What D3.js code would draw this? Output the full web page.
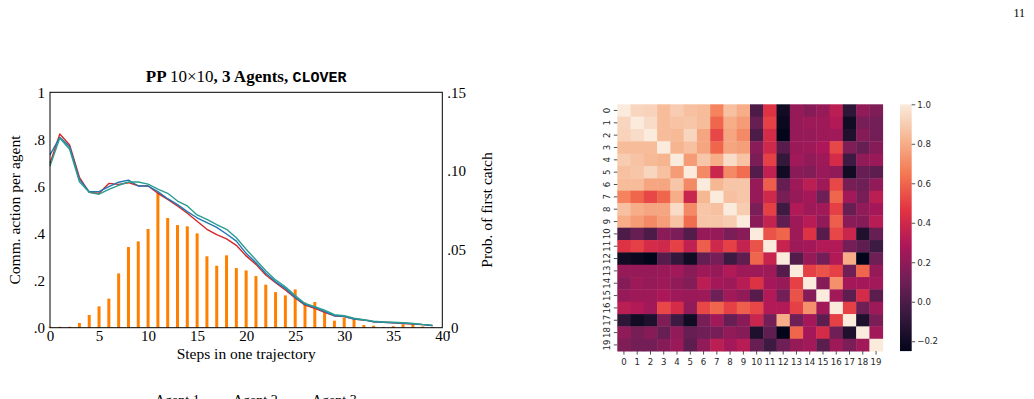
<!DOCTYPE html>
<html>
<head>
<meta charset="utf-8">
<script src="https://cdn.jsdelivr.net/npm/d3@7"></script>
<style>
  body { margin: 0; background: white; }
  svg { display: block; }
  .serif { font-family: "Liberation Serif", "DejaVu Serif", serif; }
  .sans { font-family: "DejaVu Sans", sans-serif; }
</style>
</head>
<body>
<svg id="figure" width="1034" height="399"></svg>
<script>
// ---- left chart data ----
var steps = d3.range(0, 40);
var agent1 = [0.698, 0.823, 0.776, 0.639, 0.575, 0.571, 0.613, 0.609, 0.616, 0.603,
              0.602, 0.571, 0.545, 0.517, 0.486, 0.452, 0.418, 0.395, 0.377, 0.350,
              0.305, 0.269, 0.224, 0.191, 0.160, 0.126, 0.096, 0.082, 0.065, 0.050,
              0.047, 0.037, 0.033, 0.025, 0.023, 0.021, 0.018, 0.016, 0.013, 0.009];
var agent2 = [0.734, 0.809, 0.769, 0.630, 0.578, 0.578, 0.599, 0.618, 0.627, 0.602,
              0.602, 0.578, 0.548, 0.523, 0.493, 0.467, 0.446, 0.426, 0.398, 0.368,
              0.316, 0.276, 0.231, 0.195, 0.167, 0.129, 0.099, 0.086, 0.068, 0.051,
              0.048, 0.037, 0.033, 0.025, 0.023, 0.021, 0.020, 0.017, 0.013, 0.009];
var agent3 = [0.687, 0.806, 0.758, 0.620, 0.575, 0.567, 0.588, 0.605, 0.619, 0.619,
              0.610, 0.589, 0.571, 0.538, 0.517, 0.479, 0.460, 0.438, 0.418, 0.382,
              0.333, 0.288, 0.242, 0.203, 0.174, 0.137, 0.103, 0.089, 0.075, 0.055,
              0.051, 0.040, 0.034, 0.028, 0.024, 0.023, 0.021, 0.018, 0.014, 0.011];
var firstCatch = [0.0006, 0.0006, 0.0006, 0.0030, 0.0081, 0.0136, 0.0185, 0.0346, 0.0514, 0.0550,
                  0.0629, 0.0860, 0.0699, 0.0654, 0.0646, 0.0601, 0.0455, 0.0395, 0.0461, 0.0380,
                  0.0365, 0.0329, 0.0274, 0.0227, 0.0206, 0.0244, 0.0161, 0.0164, 0.0108, 0.0045,
                  0.0064, 0.0053, 0.0017, 0.0013, 0.0005, 0.0010, 0.0021, 0.0023, 0.0008, 0.0004];
var agentNames = ["Agent 1", "Agent 2", "Agent 3"];
var xTicks = [0, 5, 10, 15, 20, 25, 30, 35, 40];
var leftTicks = [0, 0.2, 0.4, 0.6, 0.8, 1];
var leftTickLabels = [".0", ".2", ".4", ".6", ".8", "1"];
var rightTicks = [0, 0.05, 0.10, 0.15];
var rightTickLabels = [".0", ".05", ".10", ".15"];

// ---- heatmap data (correlation between 20 units) ----
var heatLabels = d3.range(0, 20).map(String);
var corr = [
  [1.00, 0.93, 0.92, 0.85, 0.90, 0.86, 0.85, 0.68, 0.86, 0.80, 0.00, 0.45, -0.20, 0.22, 0.17, 0.22, 0.33, -0.10, 0.20, 0.15],
  [0.93, 1.00, 0.95, 0.85, 0.87, 0.88, 0.85, 0.60, 0.80, 0.75, 0.08, 0.50, -0.22, 0.22, 0.24, 0.24, 0.30, -0.20, 0.13, 0.12],
  [0.92, 0.95, 1.00, 0.85, 0.84, 0.93, 0.78, 0.52, 0.78, 0.70, 0.00, 0.42, -0.25, 0.22, 0.22, 0.24, 0.25, -0.15, 0.17, 0.12],
  [0.85, 0.85, 0.85, 1.00, 0.82, 0.86, 0.78, 0.60, 0.78, 0.76, 0.18, 0.40, 0.03, 0.23, 0.24, 0.28, 0.52, 0.15, 0.08, 0.17],
  [0.90, 0.87, 0.84, 0.82, 1.00, 0.75, 0.88, 0.80, 0.95, 0.87, 0.14, 0.50, -0.08, 0.25, 0.20, 0.24, 0.42, -0.05, 0.20, 0.23],
  [0.86, 0.88, 0.93, 0.86, 0.75, 1.00, 0.70, 0.38, 0.70, 0.62, 0.02, 0.35, -0.20, 0.18, 0.16, 0.23, 0.20, -0.20, 0.08, 0.05],
  [0.85, 0.85, 0.78, 0.78, 0.88, 0.70, 1.00, 0.83, 0.88, 0.88, 0.22, 0.58, 0.07, 0.24, 0.33, 0.24, 0.52, 0.13, 0.10, 0.20],
  [0.68, 0.60, 0.52, 0.60, 0.80, 0.38, 0.83, 1.00, 0.86, 0.88, 0.22, 0.40, 0.13, 0.22, 0.26, 0.10, 0.60, 0.25, 0.13, 0.33],
  [0.86, 0.80, 0.78, 0.78, 0.95, 0.70, 0.88, 0.86, 1.00, 0.90, 0.14, 0.50, -0.05, 0.30, 0.24, 0.25, 0.50, 0.08, 0.20, 0.26],
  [0.80, 0.75, 0.70, 0.76, 0.87, 0.62, 0.88, 0.88, 0.90, 1.00, 0.18, 0.36, 0.06, 0.24, 0.32, 0.20, 0.58, 0.18, 0.17, 0.32],
  [0.00, 0.08, 0.00, 0.18, 0.14, 0.02, 0.22, 0.22, 0.14, 0.18, 1.00, 0.55, 0.60, 0.24, 0.45, 0.03, 0.52, 0.38, -0.15, 0.08],
  [0.45, 0.50, 0.42, 0.40, 0.50, 0.35, 0.58, 0.40, 0.50, 0.36, 0.55, 1.00, 0.37, 0.24, 0.26, 0.30, 0.30, 0.12, 0.06, -0.05],
  [-0.20, -0.22, -0.25, 0.03, -0.08, -0.20, 0.07, 0.13, -0.05, 0.06, 0.60, 0.37, 1.00, 0.02, 0.22, 0.12, 0.30, 0.80, -0.25, 0.10],
  [0.22, 0.22, 0.22, 0.23, 0.25, 0.18, 0.24, 0.22, 0.30, 0.24, 0.24, 0.24, 0.02, 1.00, 0.50, 0.55, 0.50, 0.10, 0.60, 0.22],
  [0.17, 0.24, 0.22, 0.24, 0.20, 0.16, 0.33, 0.26, 0.24, 0.32, 0.45, 0.26, 0.22, 0.50, 1.00, 0.17, 0.72, 0.26, 0.26, 0.25],
  [0.22, 0.24, 0.24, 0.28, 0.24, 0.23, 0.24, 0.10, 0.25, 0.20, 0.03, 0.30, 0.12, 0.55, 0.17, 1.00, 0.25, 0.05, 0.42, 0.04],
  [0.33, 0.30, 0.25, 0.52, 0.42, 0.20, 0.52, 0.60, 0.50, 0.58, 0.52, 0.30, 0.30, 0.50, 0.72, 0.25, 1.00, 0.50, 0.10, 0.24],
  [-0.10, -0.20, -0.15, 0.15, -0.05, -0.20, 0.13, 0.25, 0.08, 0.18, 0.38, 0.12, 0.80, 0.10, 0.26, 0.05, 0.50, 1.00, -0.15, 0.14],
  [0.20, 0.13, 0.17, 0.08, 0.20, 0.08, 0.10, 0.13, 0.20, 0.17, -0.15, 0.06, -0.25, 0.60, 0.26, 0.42, 0.10, -0.15, 1.00, 0.25],
  [0.15, 0.12, 0.12, 0.17, 0.23, 0.05, 0.20, 0.33, 0.26, 0.32, 0.08, -0.05, 0.10, 0.22, 0.25, 0.04, 0.24, 0.14, 0.25, 1.00]
];
var colorbarTicks = [-0.2, 0.0, 0.2, 0.4, 0.6, 0.8, 1.0];
var rocketStops = ["#03051a", "#35193e", "#701f57", "#ad1759", "#e13342", "#f37651", "#f6b48f", "#faebdd"];

var svg = d3.select("#figure");

function build_line_chart() {
    const box = {left: 50, right: 442.3, top: 92.3, bottom: 327.7};
    var agents = [agent1, agent2, agent3];
    var lineColors = ["#d62728", "#1f77b4", "#2a9d8f"];

    var x = d3.scaleLinear().domain([0, 40]).range([box.left, box.right]);
    var yLeft = d3.scaleLinear().domain([0, 1]).range([box.bottom, box.top]);
    var yRight = d3.scaleLinear().domain([0, 0.15]).range([box.bottom, box.top]);

    var g = svg.append("g").attr("class", "serif");

    g.selectAll("rect.bar")
        .data(steps).enter()
        .append("rect").attr("class", "bar")
        .attr("x", d => x(d) - 1.5)
        .attr("width", 3)
        .attr("y", d => yRight(firstCatch[d]))
        .attr("height", d => box.bottom - yRight(firstCatch[d]))
        .attr("fill", "#ff8000");

    agents.forEach(function(values, i) {
        g.append("path")
            .attr("fill", "none")
            .attr("stroke", lineColors[i])
            .attr("stroke-width", 1.4)
            .attr("stroke-linejoin", "round")
            .attr("d", d3.line().x(d => x(d)).y(d => yLeft(values[d]))(steps));
    });

    g.append("rect")
        .attr("x", box.left).attr("y", box.top)
        .attr("width", box.right - box.left).attr("height", box.bottom - box.top)
        .attr("fill", "none").attr("stroke", "black").attr("stroke-width", 1);

    var axisLeft = g.append("g")
        .attr("transform", "translate(" + box.left + ",0)")
        .call(d3.axisLeft(yLeft).tickValues(leftTicks).tickSize(0).tickPadding(5)
            .tickFormat((d, i) => leftTickLabels[i]));
    var axisRight = g.append("g")
        .attr("transform", "translate(" + box.right + ",0)")
        .call(d3.axisRight(yRight).tickValues(rightTicks).tickSize(0).tickPadding(5)
            .tickFormat((d, i) => rightTickLabels[i]));
    var axisBottom = g.append("g")
        .attr("transform", "translate(0," + box.bottom + ")")
        .call(d3.axisBottom(x).tickValues(xTicks).tickSize(0).tickPadding(3));

    [axisLeft, axisRight, axisBottom].forEach(function(a) {
        a.select(".domain").remove();
        a.selectAll("text").attr("font-family", "Liberation Serif, serif")
            .attr("font-size", 15).attr("fill", "black");
    });

    var title = g.append("text")
        .attr("x", (box.left + box.right) / 2)
        .attr("y", 82)
        .attr("text-anchor", "middle")
        .attr("font-size", 17)
        .attr("font-weight", "bold");
    title.append("tspan").text("PP ");
    title.append("tspan").attr("font-weight", "normal").text("10×10");
    title.append("tspan").text(", 3 Agents, ");
    title.append("tspan").attr("font-family", "Liberation Mono, DejaVu Sans Mono, monospace")
        .attr("font-size", 15).text("CLOVER");

    g.append("text")
        .attr("x", (box.left + box.right) / 2)
        .attr("y", 358.5)
        .attr("text-anchor", "middle")
        .attr("font-size", 15.5)
        .text("Steps in one trajectory");

    g.append("text")
        .attr("transform", "translate(20," + (box.top + box.bottom) / 2 + ") rotate(-90)")
        .attr("text-anchor", "middle")
        .attr("font-size", 15.5)
        .text("Comm. action per agent");

    g.append("text")
        .attr("transform", "translate(492," + (box.top + box.bottom) / 2 + ") rotate(-90)")
        .attr("text-anchor", "middle")
        .attr("font-size", 15.5)
        .text("Prob. of first catch");

    // legend, partly cut off by the bottom of the page as in the source
    var legendX = [155, 233, 312];
    agentNames.forEach(function(name, i) {
        g.append("line")
            .attr("x1", legendX[i] - 22).attr("x2", legendX[i] - 6)
            .attr("y1", 401).attr("y2", 401)
            .attr("stroke", lineColors[i]).attr("stroke-width", 1.4);
        g.append("text")
            .attr("x", legendX[i]).attr("y", 405)
            .attr("font-size", 14)
            .text(name);
    });

    svg.append("text").attr("class", "serif")
        .attr("x", 1025).attr("y", 17)
        .attr("text-anchor", "end")
        .attr("font-size", 12)
        .text("11");
}

function build_heatmap() {
    const hm = {left: 617.3, top: 104.3, width: 265.4, height: 246.8};

    var x = d3.scaleBand().domain(heatLabels).range([hm.left, hm.left + hm.width]);
    var y = d3.scaleBand().domain(heatLabels).range([hm.top, hm.top + hm.height]);
    var color = d3.scaleLinear()
        .domain(rocketStops.map((c, i) => -0.25 + 1.25 * i / (rocketStops.length - 1)))
        .range(rocketStops)
        .clamp(true);

    var g = svg.append("g").attr("class", "sans");
    var cells = [];
    corr.forEach((row, r) => row.forEach((v, c) => cells.push({r: r, c: c, v: v})));

    g.selectAll("rect.cell")
        .data(cells).enter()
        .append("rect").attr("class", "cell")
        .attr("x", d => x(heatLabels[d.c]))
        .attr("y", d => y(heatLabels[d.r]))
        .attr("width", x.bandwidth() + 0.4)
        .attr("height", y.bandwidth() + 0.4)
        .attr("fill", d => color(d.v));

    var xAxis = g.append("g")
        .attr("transform", "translate(0," + (hm.top + hm.height) + ")")
        .call(d3.axisBottom(x).tickSize(3.5).tickPadding(4));
    var yAxis = g.append("g")
        .attr("transform", "translate(" + hm.left + ",0)")
        .call(d3.axisLeft(y).tickSize(3.5).tickPadding(2));
    [xAxis, yAxis].forEach(function(a) {
        a.select(".domain").remove();
        a.selectAll("line").attr("stroke", "#262626").attr("stroke-width", 0.8);
        a.selectAll("text").attr("font-family", "DejaVu Sans, sans-serif")
            .attr("font-size", 8.6).attr("fill", "#262626");
    });
    yAxis.selectAll("text")
        .attr("text-anchor", "middle")
        .attr("dy", null)
        .attr("transform", "translate(-10.5,0) rotate(-90)")
        .attr("x", 0)
        .attr("dominant-baseline", "central");

    // colorbar
    const cb = {left: 900, width: 11.7, top: hm.top, bottom: hm.top + hm.height};
    var cbScale = d3.scaleLinear().domain([-0.25, 1.0]).range([cb.bottom, cb.top]);
    var defs = svg.append("defs");
    var grad = defs.append("linearGradient").attr("id", "rocket")
        .attr("x1", 0).attr("y1", 1).attr("x2", 0).attr("y2", 0);
    rocketStops.forEach(function(c, i) {
        grad.append("stop").attr("offset", i / (rocketStops.length - 1)).attr("stop-color", c);
    });
    g.append("rect")
        .attr("x", cb.left).attr("y", cb.top)
        .attr("width", cb.width).attr("height", cb.bottom - cb.top)
        .attr("fill", "url(#rocket)");
    var cbAxis = g.append("g")
        .attr("transform", "translate(" + (cb.left + cb.width) + ",0)")
        .call(d3.axisRight(cbScale).tickValues(colorbarTicks).tickSize(3.5).tickPadding(2)
            .tickFormat(d => d3.format(".1f")(d).replace("-", "−")));
    cbAxis.select(".domain").remove();
    cbAxis.selectAll("line").attr("stroke", "#262626").attr("stroke-width", 0.8);
    cbAxis.selectAll("text").attr("font-family", "DejaVu Sans, sans-serif")
        .attr("font-size", 8.6).attr("fill", "#262626");
}

build_line_chart();
build_heatmap();
</script>
</body>
</html>
